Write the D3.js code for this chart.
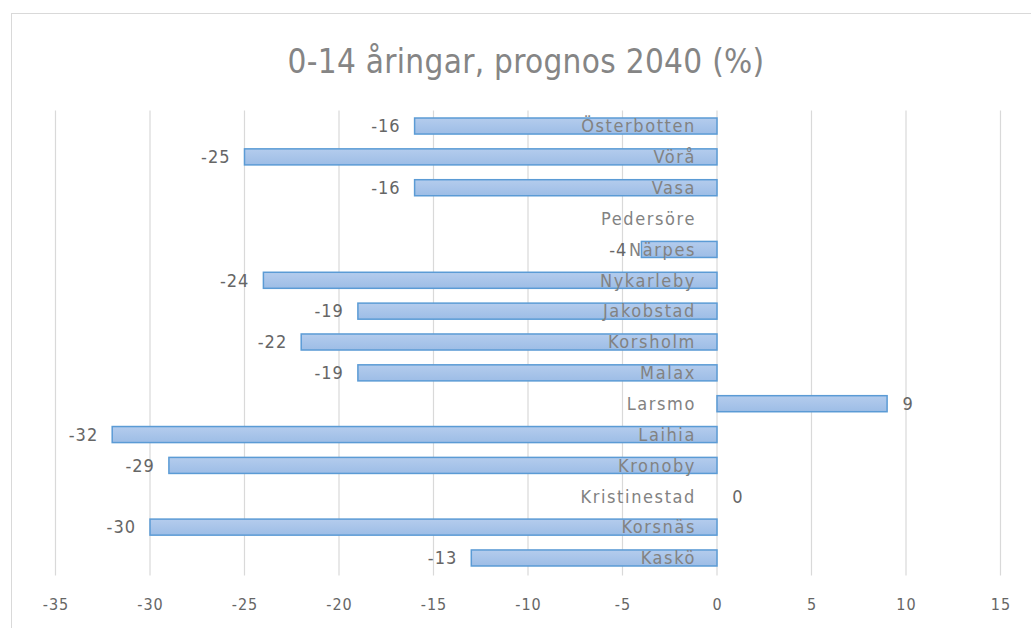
<!DOCTYPE html>
<html>
<head>
<meta charset="utf-8">
<script src="https://cdn.jsdelivr.net/npm/d3@7"></script>
<style>
  body { margin: 0; background: #fff; }
  text { font-family: "DejaVu Sans Condensed", "Liberation Sans Narrow", sans-serif; }
</style>
</head>
<body>
<div id="chart"></div>
<script>
// data
const categories = ["Österbotten", "Vörå", "Vasa", "Pedersöre", "Närpes", "Nykarleby", "Jakobstad",
  "Korsholm", "Malax", "Larsmo", "Laihia", "Kronoby", "Kristinestad", "Korsnäs", "Kaskö"];
const values = [-16, -25, -16, null, -4, -24, -19, -22, -19, 9, -32, -29, 0, -30, -13];
const xTicks = [-35, -30, -25, -20, -15, -10, -5, 0, 5, 10, 15];
const title = "0-14 åringar, prognos 2040 (%)";

const width = 1031, height = 628;
const margin = { top: 110.6, bottom: 628 - 573.4, left: 55.5, right: 1031 - 1000.5 };

const svg = d3.select("#chart").append("svg")
    .attr("width", width)
    .attr("height", height);

// chart frame
svg.append("rect")
    .attr("x", 11.5).attr("y", 13.5)
    .attr("width", 1040).attr("height", 640)
    .attr("fill", "#fff")
    .attr("stroke", "#d9d9d9");

svg.append("text")
    .attr("x", 526).attr("y", 73)
    .attr("text-anchor", "middle")
    .attr("fill", "#858585")
    .style("font-size", "33px")
    .style("letter-spacing", "0.3px")
    .text(title);

const x = d3.scaleLinear().domain([-35, 15]).range([margin.left, width - margin.right]);
const y = d3.scaleBand().domain(categories).range([margin.top, height - margin.bottom]).paddingInner(0.48).paddingOuter(0.24);

// gridlines
svg.append("g").attr("class", "grid")
  .selectAll("line").data(xTicks).join("line")
    .attr("x1", d => x(d)).attr("x2", d => x(d))
    .attr("y1", margin.top).attr("y2", height - margin.bottom + 2)
    .attr("stroke", "#d9d9d9").attr("stroke-width", 1.2);

// x axis labels
const xAxis = svg.append("g")
    .attr("transform", `translate(0, ${height - margin.bottom})`)
    .call(d3.axisBottom(x).tickValues(xTicks).tickFormat(d => String(d)).tickSize(0).tickPadding(25));
xAxis.select(".domain").remove();
xAxis.selectAll("text").attr("fill", "#666").style("font-size", "16px").style("letter-spacing", "1px");

const defs = svg.append("defs");
const grad = defs.append("linearGradient").attr("id", "barfill").attr("x1", 0).attr("x2", 0).attr("y1", 0).attr("y2", 1);
grad.append("stop").attr("offset", "0%").attr("stop-color", "#b4cced");
grad.append("stop").attr("offset", "100%").attr("stop-color", "#9dbde6");

const rows = categories.map((c, i) => ({ cat: c, v: values[i] }));

// bars
svg.append("g").attr("class", "bars")
  .selectAll("rect").data(rows.filter(d => d.v !== null && d.v !== 0)).join("rect")
    .attr("x", d => x(Math.min(0, d.v)))
    .attr("y", d => y(d.cat))
    .attr("width", d => Math.abs(x(d.v) - x(0)))
    .attr("height", y.bandwidth())
    .attr("fill", "url(#barfill)")
    .attr("stroke", "#5b9bd5")
    .attr("stroke-width", 1.5);

// category labels
svg.append("g").attr("class", "cats")
  .selectAll("text").data(rows).join("text")
    .attr("x", x(0) - 21)
    .attr("y", d => y(d.cat) + y.bandwidth() / 2)
    .attr("dy", "0.35em")
    .attr("text-anchor", "end")
    .attr("fill", "#828282")
    .style("font-size", "18px")
    .style("letter-spacing", "1.6px")
    .text(d => d.cat);

// value labels
svg.append("g").attr("class", "values")
  .selectAll("text").data(rows.filter(d => d.v !== null)).join("text")
    .attr("x", d => d.v < 0 ? x(d.v) - 14 : x(d.v) + 21)
    .attr("y", d => y(d.cat) + y.bandwidth() / 2)
    .attr("dy", "0.35em")
    .attr("text-anchor", d => d.v < 0 ? "end" : "middle")
    .attr("fill", "#666")
    .style("font-size", "18px")
    .style("letter-spacing", "1px")
    .text(d => d.v);
</script>
</body>
</html>
